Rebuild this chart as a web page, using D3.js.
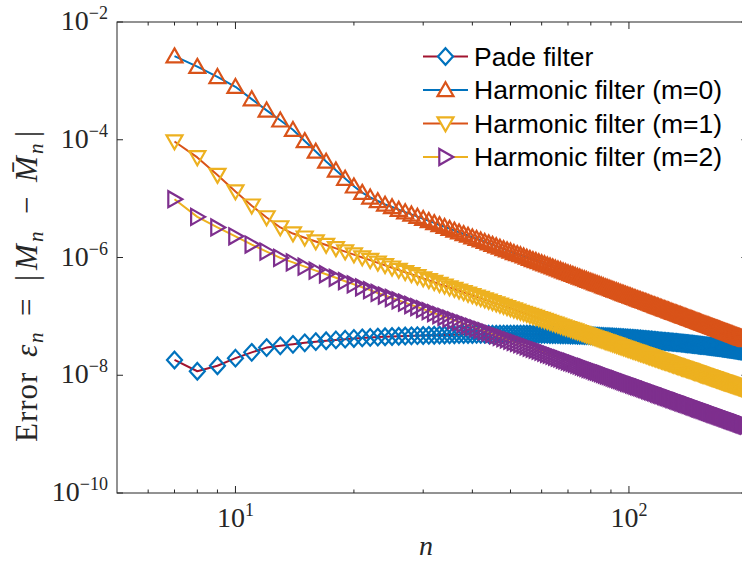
<!DOCTYPE html>
<html><head><meta charset="utf-8">
<script src="https://cdn.jsdelivr.net/npm/d3@7"></script>
<style>html,body{margin:0;padding:0;background:#fff;overflow:hidden}</style>
</head><body>
<svg id="chart" width="742" height="563"></svg>
<script>
const nValues = [7,8,9,10,11,12,13,14,15,16,17,18,19,20,21,22,23,24,25,26,27,28,29,30,
31,32,33,34,35,36,37,38,39,40,41,42,43,44,45,46,47,48,49,50,51,52,53,54,55,56,57,58,59,60,
61,62,63,64,65,66,67,68,69,70,71,72,73,74,75,76,77,78,79,80,81,82,83,84,85,86,87,88,89,90,
91,92,93,94,95,96,97,98,99,100,101,102,103,104,105,106,107,108,109,110,111,112,113,114,115,
116,117,118,119,120,121,122,123,124,125,126,127,128,129,130,131,132,133,134,135,136,137,138,
139,140,141,142,143,144,145,146,147,148,149,150,151,152,153,154,155,156,157,158,159,160,161,
162,163,164,165,166,167,168,169,170,171,172,173,174,175,176,177,178,179,180,181,182,183,184,
185,186,187,188,189,190,191,192,193,194,195,196,197,198,199,200];

const padeValues = [1.82e-8,1.17e-8,1.45e-8,1.95e-8,2.45e-8,2.95e-8,3.16e-8,3.35e-8,3.55e-8,3.72e-8,3.85e-8,3.98e-8,4.10e-8,4.22e-8,
4.31e-8,4.39e-8,4.45e-8,4.50e-8,4.55e-8,4.59e-8,4.63e-8,4.67e-8,4.70e-8,4.73e-8,
4.76e-8,4.79e-8,4.81e-8,4.83e-8,4.85e-8,4.87e-8,4.89e-8,4.90e-8,4.92e-8,4.93e-8,
4.94e-8,4.95e-8,4.96e-8,4.97e-8,4.98e-8,4.98e-8,4.99e-8,4.99e-8,5.00e-8,5.00e-8,
5.00e-8,5.00e-8,5.00e-8,5.00e-8,4.99e-8,4.99e-8,4.98e-8,4.98e-8,4.97e-8,4.96e-8,
4.95e-8,4.94e-8,4.93e-8,4.92e-8,4.91e-8,4.90e-8,4.88e-8,4.87e-8,4.86e-8,4.84e-8,
4.83e-8,4.81e-8,4.80e-8,4.78e-8,4.76e-8,4.75e-8,4.73e-8,4.71e-8,4.70e-8,4.68e-8,
4.66e-8,4.64e-8,4.62e-8,4.60e-8,4.58e-8,4.56e-8,4.54e-8,4.52e-8,4.50e-8,4.48e-8,
4.46e-8,4.44e-8,4.42e-8,4.40e-8,4.38e-8,4.36e-8,4.34e-8,4.32e-8,4.30e-8,4.28e-8,
4.26e-8,4.23e-8,4.21e-8,4.19e-8,4.16e-8,4.14e-8,4.12e-8,4.09e-8,4.07e-8,4.05e-8,
4.03e-8,4.00e-8,3.98e-8,3.96e-8,3.93e-8,3.91e-8,3.89e-8,3.87e-8,3.84e-8,3.82e-8,
3.80e-8,3.78e-8,3.76e-8,3.75e-8,3.73e-8,3.71e-8,3.69e-8,3.67e-8,3.65e-8,3.63e-8,
3.62e-8,3.60e-8,3.58e-8,3.56e-8,3.54e-8,3.52e-8,3.51e-8,3.49e-8,3.47e-8,3.45e-8,
3.43e-8,3.42e-8,3.40e-8,3.38e-8,3.36e-8,3.35e-8,3.33e-8,3.31e-8,3.29e-8,3.27e-8,
3.25e-8,3.24e-8,3.22e-8,3.21e-8,3.19e-8,3.18e-8,3.16e-8,3.14e-8,3.13e-8,3.11e-8,
3.10e-8,3.08e-8,3.06e-8,3.05e-8,3.03e-8,3.02e-8,3.00e-8,2.98e-8,2.97e-8,2.95e-8,
2.94e-8,2.92e-8,2.90e-8,2.89e-8,2.87e-8,2.86e-8,2.84e-8,2.82e-8,2.81e-8,2.79e-8,
2.78e-8,2.76e-8,2.75e-8,2.73e-8,2.71e-8,2.70e-8,2.68e-8,2.67e-8,2.65e-8,2.63e-8,
2.62e-8,2.60e-8,2.59e-8,2.57e-8,2.56e-8,2.54e-8,2.53e-8,2.51e-8,2.50e-8,2.48e-8];

const harm0Values = [2.63e-3,1.74e-3,1.17e-3,7.94e-4,4.90e-4,3.16e-4,2.14e-4,1.48e-4,9.55e-5,6.31e-5,4.27e-5,3.02e-5,2.19e-5,1.62e-5,1.26e-5,1.05e-5,9.12e-6,7.94e-6,
7.2e-6,6.5e-6,5.9e-6,5.4e-6,4.95e-6,4.54e-6,4.19e-6,3.87e-6,3.57e-6,3.33e-6,3.09e-6,2.88e-6,2.69e-6,2.51e-6,2.36e-6,2.21e-6,2.08e-6,1.96e-6,1.85e-6,1.75e-6,1.65e-6,1.56e-6,1.48e-6,1.40e-6,1.33e-6,1.27e-6,
1.20e-6,1.15e-6,1.10e-6,1.05e-6,1.00e-6,9.55e-7,9.1e-7,8.76e-7,8.37e-7,8.04e-7,
7.72e-7,7.41e-7,7.12e-7,6.84e-7,6.57e-7,6.31e-7,6.10e-7,5.86e-7,5.65e-7,5.46e-7,
5.28e-7,5.10e-7,4.93e-7,4.76e-7,4.60e-7,4.44e-7,4.32e-7,4.17e-7,4.03e-7,3.91e-7,
3.80e-7,3.67e-7,3.57e-7,3.47e-7,3.37e-7,3.27e-7,3.16e-7,3.09e-7,3.00e-7,2.92e-7,
2.84e-7,2.75e-7,2.69e-7,2.62e-7,2.54e-7,2.48e-7,2.41e-7,2.36e-7,2.29e-7,2.24e-7,
2.19e-7,2.13e-7,2.08e-7,2.03e-7,1.98e-7,1.94e-7,1.89e-7,1.85e-7,1.81e-7,1.77e-7,
1.73e-7,1.69e-7,1.65e-7,1.61e-7,1.58e-7,1.55e-7,1.51e-7,1.48e-7,1.45e-7,1.42e-7,
1.39e-7,1.36e-7,1.33e-7,1.31e-7,1.28e-7,1.26e-7,1.23e-7,1.21e-7,1.18e-7,1.16e-7,
1.14e-7,1.12e-7,1.10e-7,1.08e-7,1.06e-7,1.035e-7,1.02e-7,1.00e-7,9.83e-8,9.66e-8,
9.49e-8,9.33e-8,9.17e-8,9.02e-8,8.86e-8,8.71e-8,8.56e-8,8.41e-8,8.27e-8,8.13e-8,
7.99e-8,7.85e-8,7.72e-8,7.59e-8,7.50e-8,7.37e-8,7.24e-8,7.12e-8,7.04e-8,6.92e-8,
6.80e-8,6.68e-8,6.61e-8,6.49e-8,6.42e-8,6.31e-8,6.20e-8,6.13e-8,6.03e-8,5.96e-8,
5.86e-8,5.75e-8,5.69e-8,5.59e-8,5.53e-8,5.43e-8,5.37e-8,5.31e-8,5.22e-8,5.16e-8,
5.07e-8,5.01e-8,4.95e-8,4.87e-8,4.81e-8,4.73e-8,4.68e-8,4.62e-8,4.57e-8,4.49e-8,
4.44e-8,4.39e-8,4.32e-8,4.27e-8,4.22e-8,4.17e-8,4.12e-8,4.05e-8,4.00e-8,3.96e-8];

const harm1Values = [9.33e-5,5.01e-5,2.51e-5,1.32e-5,7.59e-6,4.79e-6,3.24e-6,
2.55e-6,2.17e-6,1.87e-6,1.63e-6,1.43e-6,1.26e-6,1.12e-6,
1.00e-6,9.02e-7,8.12e-7,7.38e-7,6.71e-7,6.13e-7,5.63e-7,5.18e-7,4.78e-7,4.41e-7,
4.10e-7,3.81e-7,3.53e-7,3.32e-7,3.10e-7,2.91e-7,2.73e-7,2.56e-7,2.41e-7,2.28e-7,
2.15e-7,2.04e-7,1.93e-7,1.83e-7,1.74e-7,1.65e-7,1.57e-7,1.50e-7,1.43e-7,1.36e-7,
1.30e-7,1.245e-7,1.19e-7,1.14e-7,1.10e-7,1.05e-7,1.01e-7,9.70e-8,9.30e-8,8.97e-8,
8.64e-8,8.33e-8,8.02e-8,7.73e-8,7.45e-8,7.18e-8,6.95e-8,6.70e-8,6.49e-8,6.29e-8,
6.09e-8,5.90e-8,5.72e-8,5.54e-8,5.37e-8,5.20e-8,5.06e-8,4.90e-8,4.75e-8,4.63e-8,
4.50e-8,4.36e-8,4.25e-8,4.14e-8,4.03e-8,3.93e-8,3.80e-8,3.72e-8,3.63e-8,3.53e-8,
3.44e-8,3.35e-8,3.28e-8,3.19e-8,3.11e-8,3.04e-8,2.96e-8,2.90e-8,2.83e-8,2.77e-8,
2.71e-8,2.64e-8,2.58e-8,2.53e-8,2.48e-8,2.42e-8,2.37e-8,2.32e-8,2.28e-8,2.23e-8,
2.18e-8,2.13e-8,2.09e-8,2.05e-8,2.00e-8,1.97e-8,1.93e-8,1.89e-8,1.85e-8,1.82e-8,
1.78e-8,1.75e-8,1.72e-8,1.69e-8,1.66e-8,1.63e-8,1.60e-8,1.57e-8,1.54e-8,1.51e-8,
1.49e-8,1.46e-8,1.44e-8,1.41e-8,1.39e-8,1.36e-8,1.34e-8,1.32e-8,1.30e-8,1.28e-8,
1.26e-8,1.24e-8,1.22e-8,1.20e-8,1.18e-8,1.16e-8,1.14e-8,1.12e-8,1.11e-8,1.09e-8,
1.07e-8,1.055e-8,1.04e-8,1.02e-8,1.01e-8,9.96e-9,9.80e-9,9.64e-9,9.54e-9,9.39e-9,
9.24e-9,9.10e-9,9.00e-9,8.86e-9,8.77e-9,8.63e-9,8.49e-9,8.40e-9,8.27e-9,8.18e-9,
8.05e-9,7.93e-9,7.84e-9,7.72e-9,7.64e-9,7.52e-9,7.44e-9,7.36e-9,7.25e-9,7.17e-9,
7.06e-9,6.98e-9,6.91e-9,6.80e-9,6.73e-9,6.62e-9,6.55e-9,6.48e-9,6.42e-9,6.31e-9,
6.25e-9,6.18e-9,6.08e-9,6.02e-9,5.96e-9,5.89e-9,5.83e-9,5.74e-9,5.68e-9,5.62e-9];

const harm2Values = [9.77e-6,4.90e-6,3.24e-6,2.29e-6,1.66e-6,1.26e-6,
9.85e-7,8.25e-7,6.99e-7,5.99e-7,5.19e-7,4.52e-7,3.96e-7,3.50e-7,
3.12e-7,2.79e-7,2.50e-7,2.26e-7,2.05e-7,1.87e-7,1.71e-7,1.56e-7,1.44e-7,1.33e-7,
1.23e-7,1.135e-7,1.05e-7,9.83e-8,9.15e-8,8.56e-8,8.01e-8,7.50e-8,7.06e-8,6.64e-8,
6.25e-8,5.91e-8,5.59e-8,5.29e-8,5.01e-8,4.74e-8,4.51e-8,4.29e-8,4.08e-8,3.89e-8,
3.70e-8,3.54e-8,3.38e-8,3.24e-8,3.10e-8,2.96e-8,2.84e-8,2.73e-8,2.61e-8,2.51e-8,
2.42e-8,2.32e-8,2.24e-8,2.15e-8,2.07e-8,1.99e-8,1.93e-8,1.85e-8,1.79e-8,1.73e-8,
1.68e-8,1.62e-8,1.57e-8,1.52e-8,1.47e-8,1.42e-8,1.38e-8,1.34e-8,1.29e-8,1.26e-8,
1.22e-8,1.18e-8,1.15e-8,1.12e-8,1.09e-8,1.06e-8,1.03e-8,1.00e-8,9.76e-9,9.49e-9,
9.23e-9,8.98e-9,8.79e-9,8.55e-9,8.32e-9,8.13e-9,7.91e-9,7.74e-9,7.53e-9,7.36e-9,
7.20e-9,7.00e-9,6.85e-9,6.70e-9,6.56e-9,6.41e-9,6.27e-9,6.14e-9,6.00e-9,5.87e-9,
5.74e-9,5.62e-9,5.49e-9,5.37e-9,5.26e-9,5.17e-9,5.05e-9,4.95e-9,4.84e-9,4.76e-9,
4.65e-9,4.58e-9,4.48e-9,4.40e-9,4.31e-9,4.24e-9,4.14e-9,4.08e-9,3.99e-9,3.92e-9,
3.86e-9,3.77e-9,3.71e-9,3.65e-9,3.59e-9,3.51e-9,3.45e-9,3.40e-9,3.34e-9,3.29e-9,
3.23e-9,3.18e-9,3.13e-9,3.07e-9,3.02e-9,2.97e-9,2.93e-9,2.88e-9,2.83e-9,2.78e-9,
2.74e-9,2.69e-9,2.65e-9,2.61e-9,2.58e-9,2.53e-9,2.49e-9,2.45e-9,2.42e-9,2.38e-9,
2.35e-9,2.31e-9,2.28e-9,2.24e-9,2.22e-9,2.18e-9,2.15e-9,2.12e-9,2.09e-9,2.07e-9,
2.03e-9,2.00e-9,1.98e-9,1.94e-9,1.92e-9,1.89e-9,1.87e-9,1.85e-9,1.82e-9,1.80e-9,
1.77e-9,1.75e-9,1.73e-9,1.70e-9,1.68e-9,1.66e-9,1.64e-9,1.62e-9,1.60e-9,1.58e-9,
1.56e-9,1.54e-9,1.52e-9,1.50e-9,1.48e-9,1.47e-9,1.45e-9,1.43e-9,1.41e-9,1.40e-9];

const seriesNames = ["Pade filter", "Harmonic filter (m=0)", "Harmonic filter (m=1)", "Harmonic filter (m=2)"];
const xMajorTicks = [10, 100];
const xMinorTicks = [6, 7, 8, 9, 20, 30, 40, 50, 60, 70, 80, 90, 200];
const xTickExponents = ["1", "2"];
const yTicks = [1e-10, 1e-8, 1e-6, 1e-4, 1e-2];
const yTickExponents = ["\u221210", "\u22128", "\u22126", "\u22124", "\u22122"];

[padeValues, harm0Values, harm1Values, harm2Values].forEach((a, i) => {
  if (a.length !== nValues.length) throw new Error("length mismatch series " + i + ": " + a.length + " vs " + nValues.length);
});

const svg = d3.select("#chart");
const plot = {left: 117, top: 22, right: 747.4, bottom: 493};
const x = d3.scaleLog().domain([5, 200]).range([plot.left, plot.right]);
const y = d3.scaleLog().domain([1e-10, 1e-2]).range([plot.bottom, plot.top]);
const axisColor = "#262626";
const tickFont = "'Liberation Serif', 'DejaVu Serif', serif";

svg.append("rect").attr("width", 742).attr("height", 563).attr("fill", "#fff");

svg.append("defs").append("clipPath").attr("id", "clip")
  .append("rect").attr("x", plot.left).attr("y", plot.top)
  .attr("width", plot.right - plot.left).attr("height", plot.bottom - plot.top);

const markerPaths = {
  diamond: "M0,-8.3L7.5,0L0,8.3L-7.5,0Z",
  up: "M0,-7.8L8,6.2L-8,6.2Z",
  down: "M0,7.8L8,-6.2L-8,-6.2Z",
  right: "M7.8,0L-6.2,-8L-6.2,8Z"
};

const series = [
  {name: seriesNames[0], values: padeValues, line: "#A2142F", marker: "#0072BD", shape: "diamond"},
  {name: seriesNames[1], values: harm0Values, line: "#0072BD", marker: "#D95319", shape: "up"},
  {name: seriesNames[2], values: harm1Values, line: "#D95319", marker: "#EDB120", shape: "down"},
  {name: seriesNames[3], values: harm2Values, line: "#EDB120", marker: "#7E2F8E", shape: "right"}
];

const dataG = svg.append("g").attr("clip-path", "url(#clip)");
const lineGen = d3.line().x(d => x(d.n)).y(d => y(d.v));

series.forEach(s => {
  const pts = nValues.map((n, i) => ({n: n, v: s.values[i]}));
  const g = dataG.append("g");
  g.append("path").datum(pts).attr("d", lineGen)
    .attr("fill", "none").attr("stroke", s.line).attr("stroke-width", 2)
    .attr("stroke-linejoin", "round");
  g.selectAll("path.mk").data(pts).enter().append("path").attr("class", "mk")
    .attr("d", markerPaths[s.shape])
    .attr("transform", d => `translate(${x(d.n)},${y(d.v)})`)
    .attr("fill", "none").attr("stroke", s.marker).attr("stroke-width", 2.2)
    .attr("stroke-linejoin", "miter");
});

// axes box
const axG = svg.append("g").attr("stroke", axisColor).attr("stroke-width", 1).attr("fill", "none");
axG.append("rect").attr("x", plot.left).attr("y", plot.top)
  .attr("width", plot.right - plot.left).attr("height", plot.bottom - plot.top);

// x ticks (bottom & top, inward)
xMajorTicks.forEach(t => {
  const px = x(t);
  axG.append("line").attr("x1", px).attr("x2", px).attr("y1", plot.bottom).attr("y2", plot.bottom - 7);
  axG.append("line").attr("x1", px).attr("x2", px).attr("y1", plot.top).attr("y2", plot.top + 7);
});
xMinorTicks.forEach(t => {
  const px = x(t);
  axG.append("line").attr("x1", px).attr("x2", px).attr("y1", plot.bottom).attr("y2", plot.bottom - 3.5);
  axG.append("line").attr("x1", px).attr("x2", px).attr("y1", plot.top).attr("y2", plot.top + 3.5);
});
// y ticks (left & right, inward)
yTicks.forEach(t => {
  const py = y(t);
  axG.append("line").attr("x1", plot.left).attr("x2", plot.left + 6).attr("y1", py).attr("y2", py);
  axG.append("line").attr("x1", plot.right).attr("x2", plot.right - 6).attr("y1", py).attr("y2", py);
});

// y tick labels
yTicks.forEach((t, i) => {
  const py = y(t);
  const tx = svg.append("text").attr("x", 108).attr("y", py + 8)
    .attr("text-anchor", "end").attr("font-family", tickFont).attr("fill", axisColor)
    .attr("font-size", 28);
  tx.append("tspan").text("10");
  tx.append("tspan").attr("dy", -11).attr("font-size", 18).text(yTickExponents[i]);
});
// x tick labels
xMajorTicks.forEach((t, i) => {
  const px = x(t);
  const tx = svg.append("text").attr("x", px).attr("y", 527)
    .attr("text-anchor", "middle").attr("font-family", tickFont).attr("fill", axisColor)
    .attr("font-size", 28);
  tx.append("tspan").text("10");
  tx.append("tspan").attr("dy", -11).attr("font-size", 18).text(xTickExponents[i]);
});

// x axis label
svg.append("text").attr("x", 426).attr("y", 555).attr("text-anchor", "middle")
  .attr("font-family", tickFont).attr("font-style", "italic").attr("font-size", 28)
  .attr("fill", axisColor).text("n");

// y axis label (LaTeX-like spacing, laid out piece by piece along the rotated baseline)
const yl = svg.append("text").attr("transform", "translate(37,285) rotate(-90)")
  .attr("font-family", tickFont).attr("font-size", 31).attr("fill", axisColor);
const ylPieces = [
  {t: "Error", x: -157, sub: false, it: false, ls: 1},
  {t: "\u03B5", x: -72, sub: false, it: true},
  {t: "n", x: -58, sub: true, it: true},
  {t: "=", x: -31, sub: false, it: false},
  {t: "|", x: 4, sub: false, it: false},
  {t: "M", x: 15, sub: false, it: true},
  {t: "n", x: 43, sub: true, it: true},
  {t: "\u2212", x: 71, sub: false, it: false},
  {t: "M\u0304", x: 103, sub: false, it: true},
  {t: "n", x: 131, sub: true, it: true},
  {t: "|", x: 148, sub: false, it: false}
];
ylPieces.forEach(p => {
  const ts = yl.append("tspan").attr("x", p.x).attr("y", p.sub ? 6 : 0).text(p.t);
  if (p.it) ts.attr("font-style", "italic");
  if (p.sub) ts.attr("font-size", 21);
  if (p.ls) ts.attr("letter-spacing", p.ls);
});

// legend
const legendRows = [56.5, 90, 123.5, 157];
const lg = svg.append("g");
series.forEach((s, i) => {
  const ly = legendRows[i];
  lg.append("line").attr("x1", 423).attr("x2", 468).attr("y1", ly).attr("y2", ly)
    .attr("stroke", s.line).attr("stroke-width", 2);
  lg.append("path").attr("d", markerPaths[s.shape]).attr("transform", `translate(445.5,${ly})`)
    .attr("fill", "#fff").attr("stroke", s.marker).attr("stroke-width", 2.2);
  lg.append("text").attr("x", 474).attr("y", ly + 9)
    .attr("font-family", "'Liberation Sans', Arial, Helvetica, sans-serif")
    .attr("font-size", 26.5).attr("fill", "#000").text(s.name);
});
</script>
</body></html>
